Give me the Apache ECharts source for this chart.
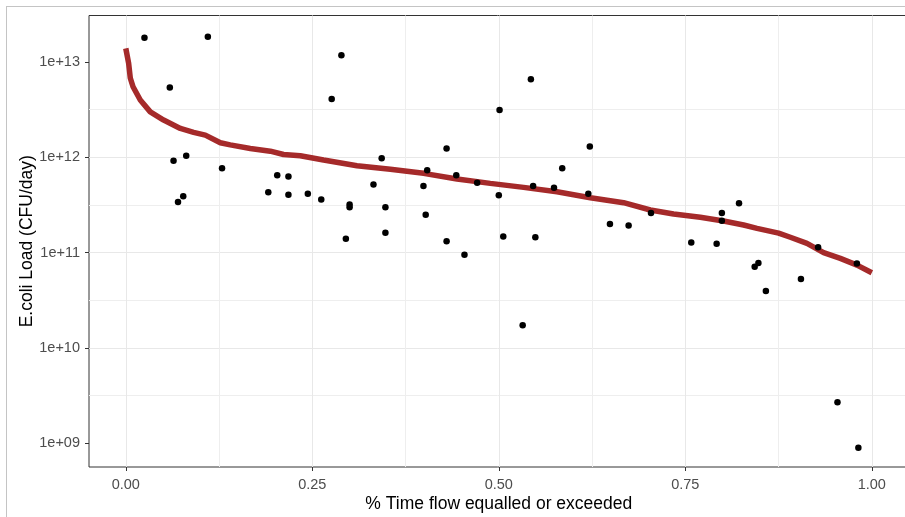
<!DOCTYPE html>
<html>
<head>
<meta charset="utf-8">
<script src="https://cdn.jsdelivr.net/npm/echarts@6/dist/echarts.min.js"></script>
<style>
html, body { margin: 0; padding: 0; background: #ffffff; }
#wrap { position: relative; width: 905px; height: 517px; overflow: hidden; background: #ffffff; }
#chart { position: absolute; left: 0; top: 0; width: 905px; height: 517px; }
#frame { position: absolute; left: 6px; top: 6px; width: 1000px; height: 600px;
         border-left: 1px solid #c4c4c4; border-top: 1px solid #c4c4c4; pointer-events: none; }
</style>
</head>
<body>
<div id="wrap"><div id="chart"></div><div id="frame"></div></div>
<script>
// ---- data ----
const xTitle = '% Time flow equalled or exceeded';
const yTitle = 'E.coli Load (CFU/day)';

const xTickValues = [0, 0.25, 0.5, 0.75, 1];
const yTickValues = [1e9, 1e10, 1e11, 1e12, 1e13];

// load duration curve
const curveX = [0, 0.0038, 0.006, 0.0097, 0.0194, 0.0328, 0.0507, 0.0731, 0.0909, 0.1066,
  0.1267, 0.140, 0.1669, 0.1937, 0.2115, 0.2339, 0.2651, 0.3099, 0.3546, 0.3992,
  0.4440, 0.4886, 0.5332, 0.5780, 0.6227, 0.6673, 0.7031, 0.7343, 0.7701, 0.8013,
  0.8282, 0.8461, 0.8751, 0.8908, 0.9131, 0.9354, 0.9578, 0.9802, 1.0];
const curveLoad = [1.39e13, 9.7e12, 6.8e12, 5.5e12, 3.99e12, 3.0e12, 2.46e12, 2.01e12, 1.83e12, 1.71e12,
  1.42e12, 1.35e12, 1.24e12, 1.16e12, 1.07e12, 1.04e12, 9.37e11, 8.17e11, 7.48e11, 6.79e11,
  5.92e11, 5.33e11, 4.84e11, 4.35e11, 3.77e11, 3.34e11, 2.80e11, 2.54e11, 2.35e11, 2.15e11,
  1.95e11, 1.80e11, 1.60e11, 1.45e11, 1.25e11, 1.00e11, 8.7e10, 7.4e10, 6.15e10];

// observed loads
const obsX = [0.025, 0.110, 0.059, 0.064, 0.081, 0.129, 0.077, 0.070, 0.203, 0.218,
  0.191, 0.218, 0.289, 0.276, 0.501, 0.430, 0.343, 0.404, 0.443, 0.471,
  0.332, 0.399, 0.244, 0.262, 0.300, 0.300, 0.348, 0.402, 0.500, 0.295,
  0.348, 0.430, 0.454, 0.543, 0.622, 0.585, 0.546, 0.574, 0.620, 0.704,
  0.649, 0.674, 0.506, 0.549, 0.758, 0.532, 0.822, 0.799, 0.799, 0.792,
  0.848, 0.843, 0.905, 0.858, 0.928, 0.980, 0.954, 0.982];
const obsLoad = [1.80e13, 1.84e13, 5.4e12, 9.2e11, 1.04e12, 7.7e11, 3.9e11, 3.4e11, 6.5e11, 6.3e11,
  4.3e11, 4.05e11, 1.18e13, 4.1e12, 3.13e12, 1.24e12, 9.8e11, 7.3e11, 6.5e11, 5.4e11,
  5.2e11, 5.0e11, 4.15e11, 3.6e11, 3.2e11, 3.0e11, 3.0e11, 2.5e11, 4.0e11, 1.4e11,
  1.62e11, 1.32e11, 9.5e10, 6.6e12, 1.30e12, 7.7e11, 5.0e11, 4.8e11, 4.15e11, 2.6e11,
  2.0e11, 1.93e11, 1.48e11, 1.45e11, 1.28e11, 1.73e10, 3.3e11, 2.6e11, 2.16e11, 1.24e11,
  7.8e10, 7.1e10, 5.3e10, 3.95e10, 1.14e11, 7.7e10, 2.7e9, 9.0e8];

// axis ranges (log10 space for y, with ggplot-style 5% expansion)
const yLogMin = 8.751, yLogMax = 13.488;
const xMin = -0.05, xMax = 1.05;

// ---- build chart ----
const FONT = '"Liberation Sans", Arial, Helvetica, sans-serif';
const lg = v => Math.log10(v);
const yTickLogs = yTickValues.map(lg);
const fmtY = v => {
  const e = Math.round(v);
  if (Math.abs(v - e) > 1e-6) return '';
  return '1e+' + String(e).padStart(2, '0');
};

const curveData = curveX.map((x, i) => [x, lg(curveLoad[i])]);
const obsData = obsX.map((x, i) => [x, lg(obsLoad[i])]);

const chart = echarts.init(document.getElementById('chart'), null, { renderer: 'canvas' });
chart.setOption({
  animation: false,
  backgroundColor: '#ffffff',
  textStyle: { fontFamily: FONT },
  grid: [
    { left: 89, top: 15.5, width: 820, height: 451.5, show: true, borderColor: '#333333', borderWidth: 1,
      backgroundColor: 'transparent', containLabel: false, outerBoundsMode: 'none' },
    { left: 125.8, top: 15.5, width: 746, height: 451.5, containLabel: false, outerBoundsMode: 'none' }
  ],
  xAxis: [
    { gridIndex: 0, type: 'value', min: xMin, max: xMax, show: false, axisLine: { onZero: false } },
    { gridIndex: 1, type: 'value', min: 0, max: 1, interval: 0.25,
      axisLine: { show: false, onZero: false },
      axisTick: { show: true, length: 4, lineStyle: { color: '#333333', width: 1 }, customValues: xTickValues },
      axisLabel: { show: true, customValues: xTickValues, margin: 10, fontSize: 14.5, color: '#4d4d4d', fontFamily: FONT,
                   formatter: v => v.toFixed(2) },
      splitLine: { show: true, lineStyle: { color: '#e8e8e8', width: 1 } },
      minorTick: { show: false, splitNumber: 2 },
      minorSplitLine: { show: true, lineStyle: { color: '#eeeeee', width: 1 } },
      name: xTitle, nameLocation: 'middle', nameGap: 28, nameMoveOverlap: false,
      nameTextStyle: { fontSize: 17.5, color: '#000000', fontFamily: FONT } }
  ],
  yAxis: [
    { gridIndex: 0, type: 'value', min: yLogMin, max: yLogMax, splitNumber: 5,
      axisLine: { show: false, onZero: false },
      axisTick: { show: true, length: 4, lineStyle: { color: '#333333', width: 1 }, customValues: yTickLogs },
      axisLabel: { show: true, customValues: yTickLogs, margin: 9, fontSize: 14.5, color: '#4d4d4d', fontFamily: FONT,
                   formatter: fmtY },
      splitLine: { show: true, showMinLine: false, showMaxLine: false, lineStyle: { color: '#e8e8e8', width: 1 } },
      minorTick: { show: false, splitNumber: 2 },
      minorSplitLine: { show: true, lineStyle: { color: '#eeeeee', width: 1 } },
      name: yTitle, nameLocation: 'middle', nameGap: 53, nameMoveOverlap: false,
      nameTextStyle: { fontSize: 17.5, color: '#000000', fontFamily: FONT } },
    { gridIndex: 1, type: 'value', min: yLogMin, max: yLogMax, show: false, axisLine: { onZero: false } }
  ],
  series: [
    { type: 'line', xAxisIndex: 1, yAxisIndex: 1, data: curveData, symbol: 'none', showSymbol: false,
      lineStyle: { color: '#a52a2a', width: 5.5 }, clip: false, z: 2, silent: true },
    { type: 'scatter', xAxisIndex: 1, yAxisIndex: 1, data: obsData, symbol: 'circle', symbolSize: 6.5,
      itemStyle: { color: '#000000', opacity: 1 }, clip: false, z: 3, silent: true }
  ]
});
</script>
</body>
</html>
